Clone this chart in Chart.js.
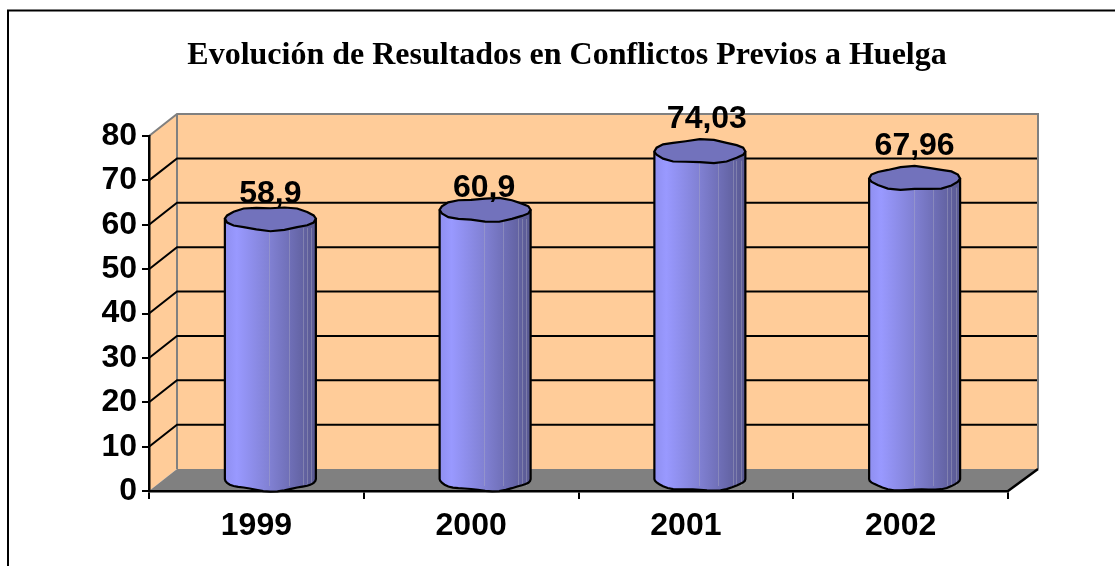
<!DOCTYPE html>
<html>
<head>
<meta charset="utf-8">
<style>
  html, body { margin: 0; padding: 0; background: #fff; overflow: hidden; }
  #wrap { width: 1115px; height: 566px; position: relative; }
</style>
</head>
<body>
<div id="wrap"><canvas id="chart" width="1115" height="566"></canvas></div>
<script src="https://cdn.jsdelivr.net/npm/chart.js@4/dist/chart.umd.min.js"></script>
<script>
const titleText = "Evolución de Resultados en Conflictos Previos a Huelga";
const years = ["1999", "2000", "2001", "2002"];
const results = [58.9, 60.9, 74.03, 67.96];
const resultLabels = ["58,9", "60,9", "74,03", "67,96"];
const yTicks = [0, 10, 20, 30, 40, 50, 60, 70, 80];

// label offsets from the cylinder top, the original places them unevenly
const labelGaps = [16, 13, 23, 23];
const labelShifts = [0, -1, 7, 0];

const depthX = 28;
const depthY = 22;
const cylWidth = 91;
const cylRy = 11.5;

// the ellipses in the original are lumpy polygons
function lumpyEllipse(ctx, cx, cy, rx, ry, from, to) {
    const steps = 20;
    for (let i = 0; i <= steps; i++) {
        const a = from + (to - from) * i / steps;
        const wobble = 1.1 * Math.sin(a * 5 + cx);
        const px = cx + rx * Math.cos(a);
        const py = cy + (ry + wobble) * Math.sin(a);
        if (i === 0 && from === 0 && to === Math.PI * 2) ctx.moveTo(px, py);
        else ctx.lineTo(px, py);
    }
}

const walls = {
    id: "walls",
    beforeDraw(chart) {
        const ctx = chart.ctx;
        const x = chart.scales.x;
        const y = chart.scales.y;
        const l = x.left, r = x.right, b = y.bottom, t = y.top;

        // outer frame, only the left and top edges show in the picture
        ctx.save();
        ctx.strokeStyle = "#000";
        ctx.lineWidth = 2;
        ctx.beginPath();
        ctx.moveTo(8, 566);
        ctx.lineTo(8, 10.5);
        ctx.lineTo(1115, 10.5);
        ctx.stroke();

        // back wall + side wall
        ctx.fillStyle = "#ffcc99";
        ctx.fillRect(l + depthX, t - depthY, r - l + 2, b - t);
        ctx.beginPath();
        ctx.moveTo(l, b);
        ctx.lineTo(l, t);
        ctx.lineTo(l + depthX, t - depthY);
        ctx.lineTo(l + depthX, b - depthY);
        ctx.closePath();
        ctx.fill();

        // floor
        ctx.fillStyle = "#808080";
        ctx.beginPath();
        ctx.moveTo(l, b);
        ctx.lineTo(r, b);
        ctx.lineTo(r + depthX + 2, b - depthY);
        ctx.lineTo(l + depthX, b - depthY);
        ctx.closePath();
        ctx.fill();

        // wall edge
        ctx.strokeStyle = "#808080";
        ctx.lineWidth = 2;
        ctx.beginPath();
        ctx.moveTo(l, t);
        ctx.lineTo(l + depthX, t - depthY);
        ctx.lineTo(r + depthX + 2, t - depthY);
        ctx.lineTo(r + depthX + 2, b - depthY);
        ctx.moveTo(l + depthX, t - depthY);
        ctx.lineTo(l + depthX, b - depthY);
        ctx.stroke();

        // gridlines bent around the corner
        ctx.strokeStyle = "#000";
        ctx.lineWidth = 2;
        yTicks.forEach((v) => {
            if (v === 0 || v === 80) return;
            const py = y.getPixelForValue(v);
            ctx.beginPath();
            ctx.moveTo(l, py);
            ctx.lineTo(l + depthX, py - depthY);
            ctx.lineTo(r + depthX + 1, py - depthY);
            ctx.stroke();
        });

        // floor right edge
        ctx.lineWidth = 2.5;
        ctx.beginPath();
        ctx.moveTo(r, b);
        ctx.lineTo(r + depthX + 2, b - depthY);
        ctx.stroke();
        ctx.restore();
    }
};

const cylinders = {
    id: "cylinders",
    afterDatasetsDraw(chart) {
        const ctx = chart.ctx;
        const meta = chart.getDatasetMeta(0);
        meta.data.forEach((bar, i) => {
            const cx = bar.x + depthX / 2;
            const topY = bar.y - depthY / 2;
            const baseY = bar.base - depthY / 2;
            const rx = cylWidth / 2;

            const grad = ctx.createLinearGradient(cx - rx, 0, cx + rx, 0);
            grad.addColorStop(0, "#8f8ff0");
            grad.addColorStop(0.13, "#9999ff");
            grad.addColorStop(0.5, "#8080d2");
            grad.addColorStop(0.75, "#6c6cb2");
            grad.addColorStop(1, "#585890");

            ctx.save();
            ctx.beginPath();
            ctx.moveTo(cx - rx, topY);
            ctx.lineTo(cx + rx, topY);
            ctx.lineTo(cx + rx, baseY);
            lumpyEllipse(ctx, cx, baseY, rx, cylRy, 0, Math.PI);
            ctx.closePath();
            ctx.fillStyle = grad;
            ctx.fill();

            // faint facet seams on the right half
            ctx.strokeStyle = "rgba(175,175,195,0.4)";
            ctx.lineWidth = 1;
            [0.49, 0.7, 0.86, 0.9, 0.95].forEach((f) => {
                const sx = Math.round(cx - rx + f * cylWidth) + 0.5;
                ctx.beginPath();
                ctx.moveTo(sx, topY + cylRy * 0.8);
                ctx.lineTo(sx, baseY + cylRy * 0.6);
                ctx.stroke();
            });

            ctx.strokeStyle = "#000";
            ctx.lineWidth = 2.2;
            ctx.beginPath();
            ctx.moveTo(cx - rx, topY);
            ctx.lineTo(cx - rx, baseY);
            lumpyEllipse(ctx, cx, baseY, rx, cylRy, Math.PI, 0);
            ctx.lineTo(cx + rx, topY);
            ctx.stroke();

            // top cap
            ctx.beginPath();
            lumpyEllipse(ctx, cx, topY, rx, cylRy, 0, Math.PI * 2);
            ctx.closePath();
            ctx.fillStyle = "#7272bc";
            ctx.fill();
            ctx.stroke();

            ctx.fillStyle = "#000";
            ctx.font = "bold 32px 'Liberation Sans'";
            ctx.textAlign = "center";
            ctx.textBaseline = "alphabetic";
            ctx.fillText(resultLabels[i], cx + labelShifts[i], topY - labelGaps[i]);
            ctx.restore();
        });
    }
};

// title in the original sits right of the page centre
const titleShift = {
    id: "titleShift",
    afterLayout(chart) {
        chart.titleBlock.left += 63;
        chart.titleBlock.right += 63;
    }
};

new Chart(document.getElementById("chart"), {
    type: "bar",
    data: {
        labels: years,
        datasets: [{
            data: results,
            backgroundColor: "rgba(0,0,0,0)",
            borderWidth: 0,
            categoryPercentage: 1,
            barPercentage: 0.42
        }]
    },
    options: {
        responsive: false,
        animation: false,
        layout: {
            padding: { left: 0, right: 107, top: 0, bottom: 12.5 }
        },
        plugins: {
            legend: { display: false },
            tooltip: { enabled: false },
            title: {
                display: true,
                text: titleText,
                color: "#000",
                font: { family: "'Liberation Serif'", size: 32, weight: "bold" },
                padding: { top: 37, bottom: 60.6 }
            }
        },
        scales: {
            x: {
                grid: { drawOnChartArea: false, color: "#000", lineWidth: 2, tickLength: 8 },
                border: { color: "#000", width: 2.5 },
                ticks: {
                    color: "#000",
                    padding: 8,
                    maxRotation: 0,
                    font: { family: "'Liberation Sans'", size: 32, weight: "bold" }
                }
            },
            y: {
                min: 0,
                max: 80,
                afterFit(scale) { scale.width = 149; },
                grid: { drawOnChartArea: false, color: "#000", lineWidth: 2, tickLength: 7 },
                border: { color: "#000", width: 2.5 },
                ticks: {
                    stepSize: 10,
                    color: "#000",
                    padding: 5,
                    font: { family: "'Liberation Sans'", size: 32, weight: "bold" }
                }
            }
        }
    },
    plugins: [walls, cylinders, titleShift]
});
</script>
</body>
</html>
